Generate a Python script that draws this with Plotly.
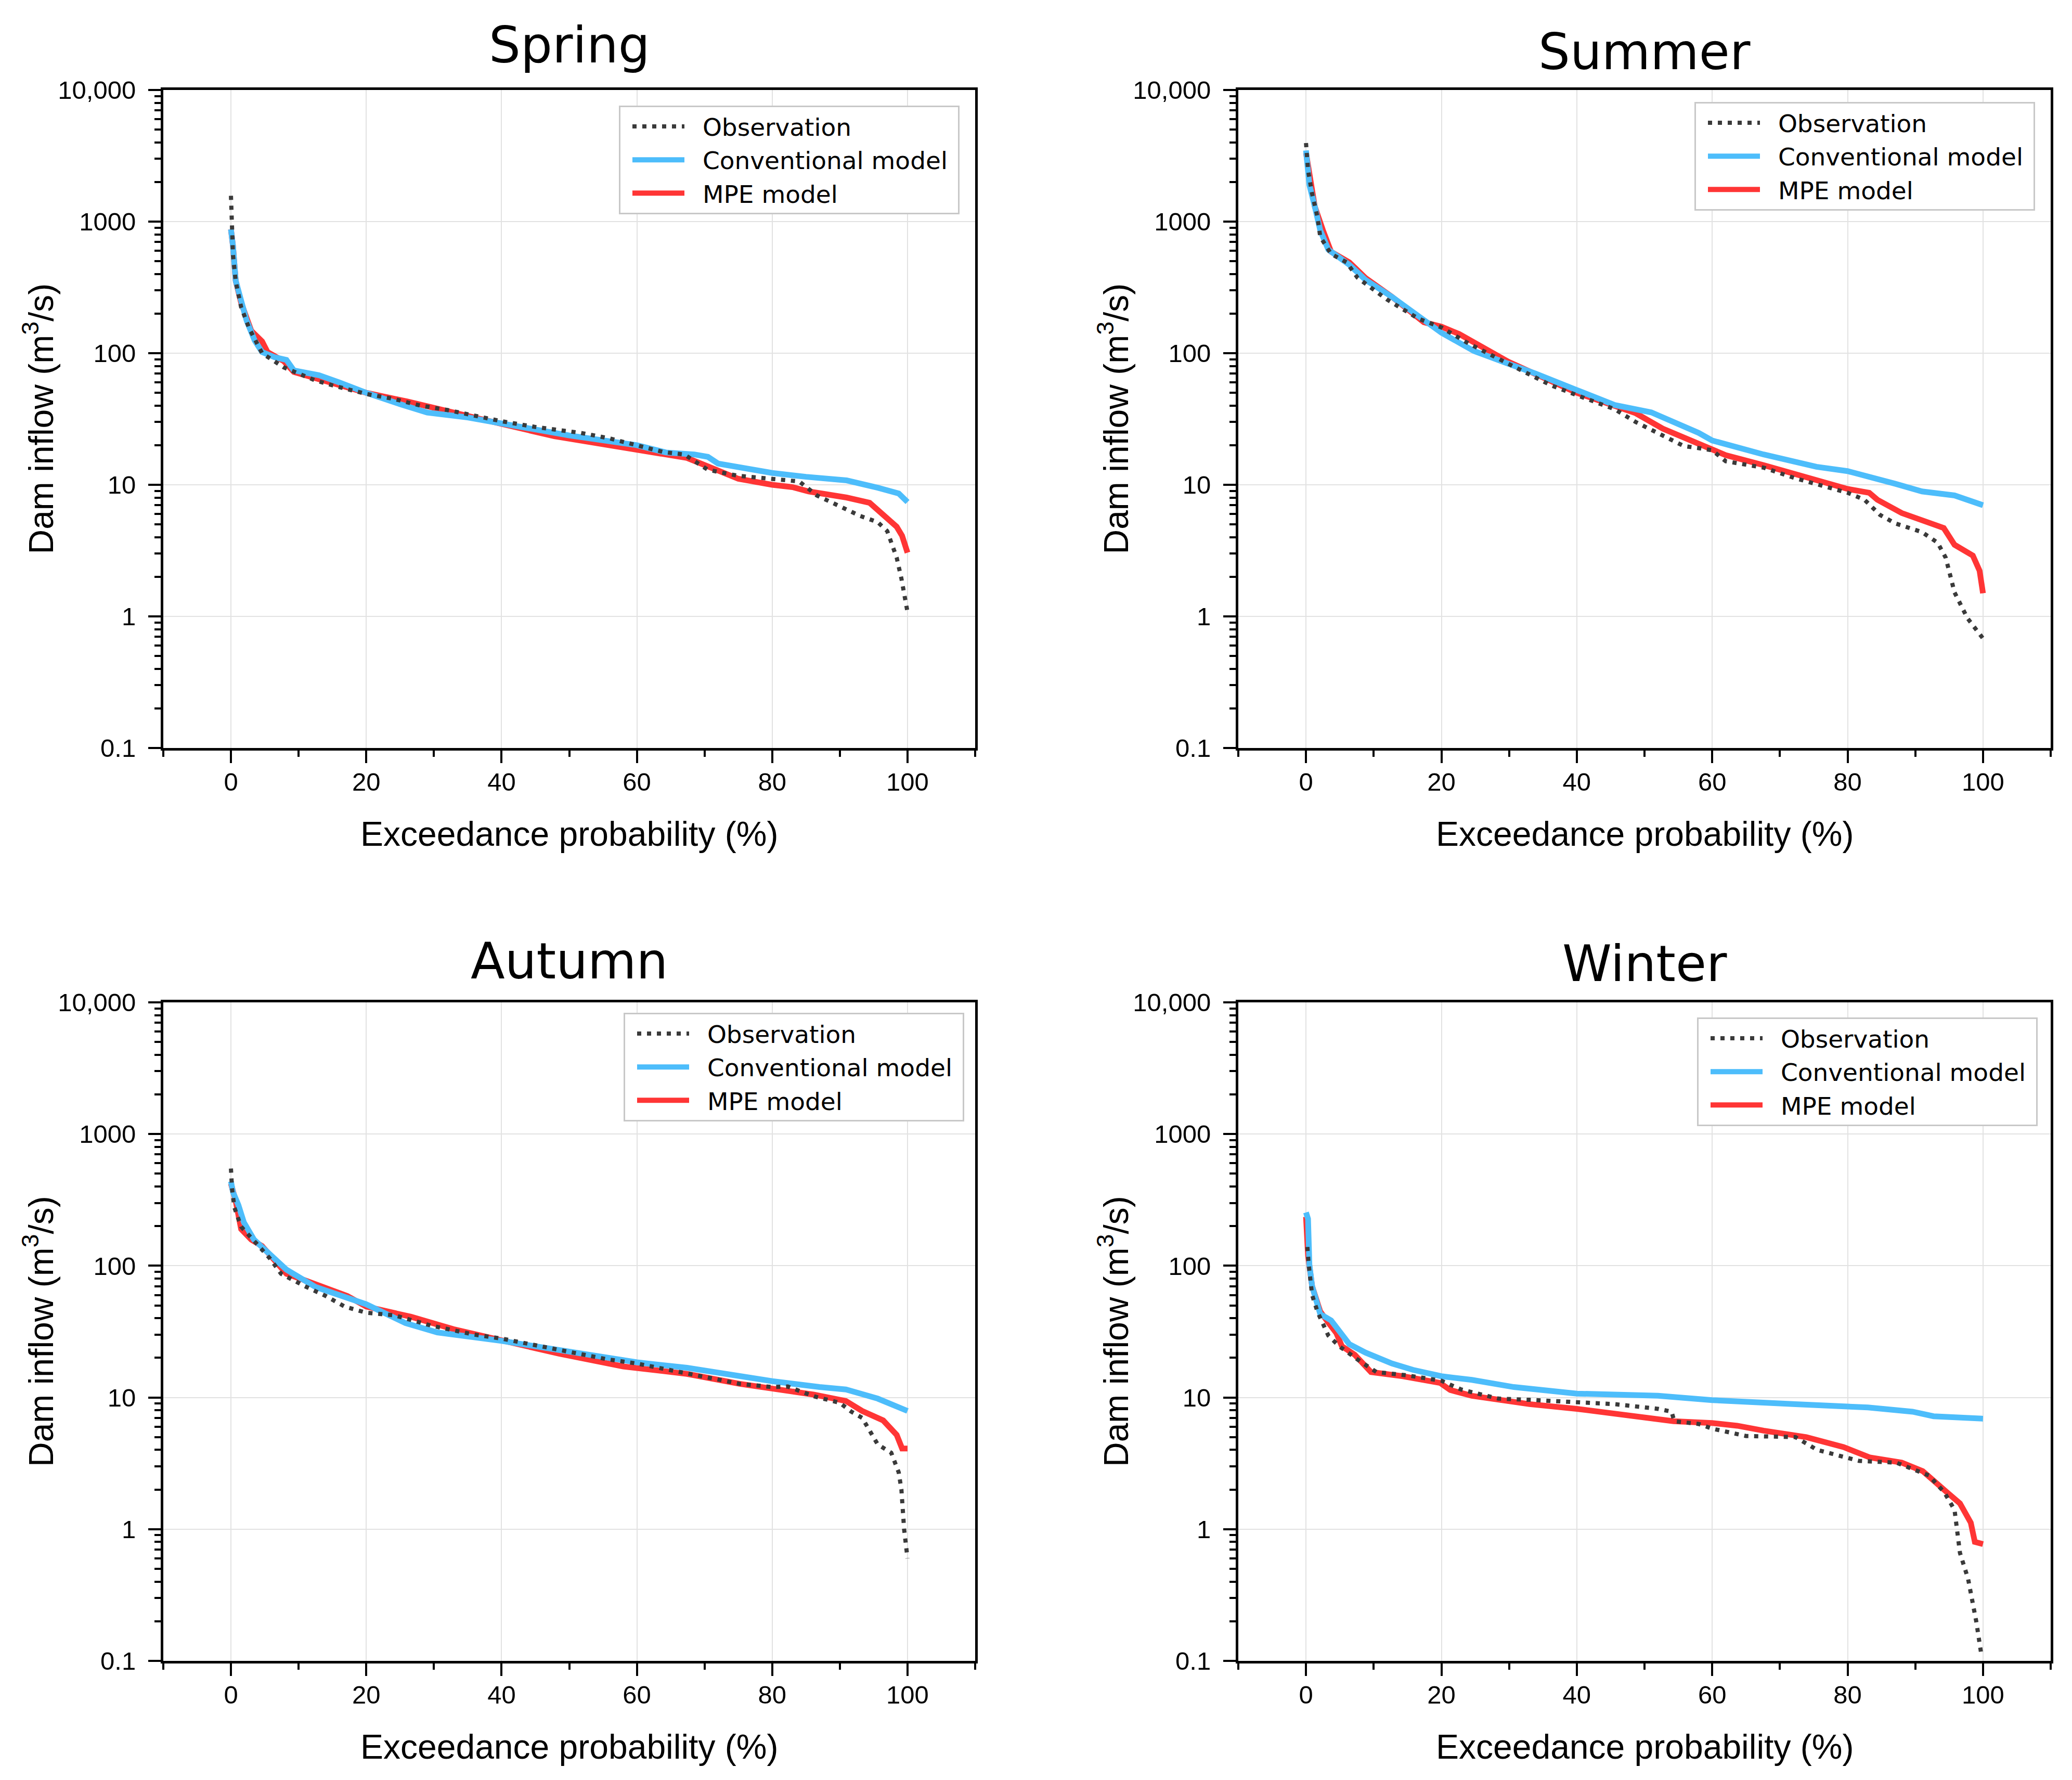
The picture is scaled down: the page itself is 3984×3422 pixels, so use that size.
import plotly.graph_objects as go

# ---------------- data ----------------
seasons = ["Spring", "Summer", "Autumn", "Winter"]
series_names = ["Observation", "Conventional model", "MPE model"]
x_tick_vals = [0, 20, 40, 60, 80, 100]
y_tick_vals = [0.1, 1, 10, 100, 1000, 10000]
y_tick_text = ["0.1", "1", "10", "100", "1000", "10,000"]

spring_obs_x = [0, 0.1, 0.3, 0.7, 1.5, 2.7, 3.8, 4.6, 7.8, 10, 12.5, 15, 20, 24, 28, 32, 36, 40, 45, 51.7, 56, 60, 64, 67, 70.5, 75, 80, 84, 86.6, 90, 93, 95.6, 97, 98.4, 99.1, 100]
spring_obs_y = [1570, 900, 556, 353, 224, 154, 118, 100, 78, 70, 62, 57, 49, 45, 40, 37, 33.5, 30.4, 27.5, 24.8, 22.5, 20, 17.7, 17, 13, 11.7, 11.1, 10.6, 8.3, 6.8, 5.8, 5.2, 4.45, 2.8, 1.94, 1.08]
spring_conv_x = [0, 0.3, 0.7, 1.5, 2.3, 3.5, 4.6, 6.5, 8.2, 9.3, 13, 16, 20, 25, 29, 35, 40, 50, 60, 62.7, 64.3, 68.5, 70.5, 72, 80, 85, 91, 95.6, 98.7, 100]
spring_conv_y = [873, 650, 355, 242, 178, 125, 102, 93, 89, 74, 68, 60, 50, 41, 35.4, 32.5, 29.3, 23.7, 20, 18.6, 17.6, 17, 16.3, 14.5, 12.3, 11.5, 10.8, 9.5, 8.6, 7.4]
spring_mpe_x = [0, 0.3, 0.7, 1.5, 3, 4.6, 5.4, 7.8, 9.3, 12.5, 20, 26, 32, 40, 47.8, 60, 64.3, 67.4, 70.5, 75, 80, 83, 85.4, 91, 94.4, 96.4, 98.4, 99.2, 100]
spring_mpe_y = [873, 650, 355, 242, 148, 123, 102, 87, 72, 65, 50, 43, 36, 29, 23.4, 18.6, 17, 16, 13.8, 11.1, 10, 9.6, 8.9, 8.0, 7.3, 6.0, 4.8, 4.1, 3.05]

summer_obs_x = [0, 0.3, 0.9, 1.7, 2.1, 3.7, 6, 7.6, 11.9, 16.6, 20, 23.7, 29.9, 36.2, 40, 45.6, 48.7, 51.9, 55.8, 58, 60, 62, 67.6, 72.3, 80, 82.5, 84.8, 87, 91, 93.3, 94.5, 95.8, 97.7, 100]
summer_obs_y = [3950, 2460, 1630, 1080, 768, 568, 490, 375, 257, 183, 157, 121, 83, 57, 48, 37.5, 30, 24.8, 19.7, 19, 18.3, 15.1, 13.5, 11.2, 8.7, 7.7, 5.9, 5.1, 4.37, 3.63, 2.79, 1.52, 0.97, 0.68]
summer_conv_x = [0, 0.5, 1.3, 2.1, 3.3, 6.4, 8.8, 12.7, 20, 24.8, 29.9, 33.9, 40, 45.6, 51, 58, 60, 67.6, 75.4, 80, 87, 91, 95.8, 100]
summer_conv_y = [3470, 1900, 1300, 860, 612, 470, 360, 268, 143, 104, 83, 70, 52.5, 40.4, 35.5, 24.8, 21.7, 17, 13.7, 12.7, 10.2, 8.9, 8.3, 7.0]
summer_mpe_x = [0, 0.8, 1.3, 2.5, 3.7, 6.4, 8.8, 12.7, 17.4, 20, 22.6, 29.9, 40, 48.7, 52.7, 58, 60, 62, 67.6, 75.4, 80, 83.2, 84.4, 88, 94.2, 95.8, 98.5, 99.5, 100]
summer_mpe_y = [3330, 1830, 1300, 860, 590, 490, 373, 268, 172, 159, 140, 86, 50, 35, 26.7, 20.5, 18.6, 16.8, 14.1, 10.9, 9.3, 8.7, 7.7, 6.1, 4.7, 3.5, 2.9, 2.22, 1.5]

autumn_obs_x = [0, 0.15, 0.5, 1.5, 3.8, 5.8, 7.4, 10.9, 14, 16.8, 20, 24.2, 29.7, 36, 40, 47.8, 55.6, 60, 67.4, 75.2, 80, 82.3, 86.2, 90, 91.7, 93.3, 95.6, 97.6, 98.7, 99.1, 99.5, 100]
autumn_obs_y = [547, 390, 278, 198, 147, 113, 87, 70, 59, 49, 44, 42, 35, 30, 28, 23.2, 19.5, 18.1, 15.3, 12.7, 12, 12.1, 10.2, 9.1, 7.8, 7.0, 4.4, 3.8, 2.7, 2.0, 1.0, 0.6]
autumn_conv_x = [0, 0.3, 1.1, 1.9, 3.4, 5.4, 8.2, 12.5, 20, 25.8, 30.5, 40, 47.8, 60, 67.4, 75.2, 80, 87, 90.9, 95.6, 100]
autumn_conv_y = [437, 362, 289, 214, 158, 126, 93.5, 69, 51, 36.7, 31.2, 26.9, 23.2, 18.5, 16.8, 14.5, 13.3, 12, 11.5, 9.8, 7.9]
autumn_mpe_x = [0, 0.7, 1.5, 3, 4.6, 6.2, 8.2, 10.9, 17.2, 20, 26.6, 32.9, 40, 48.5, 58, 67.4, 75.2, 80, 86.2, 90.9, 93.3, 96.4, 98.4, 99.2, 100]
autumn_mpe_y = [420, 310, 190, 158, 141, 112, 87, 77.6, 59, 49, 41, 33, 27.4, 21.5, 17.2, 15.1, 12.7, 11.8, 10.5, 9.4, 7.9, 6.7, 5.2, 4.1, 4.1]

winter_obs_x = [0.2, 0.4, 0.9, 1.7, 3.3, 4.9, 8, 10.4, 15, 20, 22.9, 28.4, 33, 40, 45.6, 52, 54, 54.4, 58, 60, 65, 72.3, 75.5, 81.7, 87.2, 92, 94.3, 95.8, 96.6, 97.8, 99, 99.8]
winter_obs_y = [139, 102, 60, 44.7, 29.5, 24.5, 18.8, 15.6, 14.7, 13.4, 11.5, 9.8, 9.6, 9.2, 8.9, 8.2, 7.8, 6.6, 6.3, 5.8, 5.1, 5.0, 4.0, 3.3, 3.2, 2.56, 1.9, 1.4, 0.66, 0.42, 0.2, 0.108]
winter_conv_x = [0, 0.3, 0.5, 0.9, 2.1, 3.7, 6.4, 8.8, 12.7, 15.8, 20, 24.5, 30.7, 40, 52, 60, 72.3, 83, 89.6, 92.7, 100]
winter_conv_y = [254, 227, 102, 70, 43, 38.5, 25.4, 21.9, 18.1, 16.2, 14.5, 13.6, 12, 10.7, 10.3, 9.55, 8.9, 8.4, 7.8, 7.2, 6.9]
winter_mpe_x = [0, 0.3, 0.9, 2.1, 3.3, 4.5, 5.3, 7.2, 9.6, 14.3, 19.8, 21.3, 24.5, 28.4, 33, 40, 50.4, 54.3, 60, 63.7, 67.6, 73.9, 79.4, 83.3, 88, 91.1, 94.7, 96.6, 98.2, 98.8, 100]
winter_mpe_y = [235, 119, 70, 45, 37, 30.7, 24.5, 21.1, 15.6, 14.5, 12.9, 11.4, 10.3, 9.55, 8.9, 8.2, 7.1, 6.6, 6.4, 6.1, 5.6, 5.0, 4.2, 3.5, 3.2, 2.76, 1.9, 1.57, 1.12, 0.8, 0.77]

data = {
    "Spring": [(spring_obs_x, spring_obs_y), (spring_conv_x, spring_conv_y), (spring_mpe_x, spring_mpe_y)],
    "Summer": [(summer_obs_x, summer_obs_y), (summer_conv_x, summer_conv_y), (summer_mpe_x, summer_mpe_y)],
    "Autumn": [(autumn_obs_x, autumn_obs_y), (autumn_conv_x, autumn_conv_y), (autumn_mpe_x, autumn_mpe_y)],
    "Winter": [(winter_obs_x, winter_obs_y), (winter_conv_x, winter_conv_y), (winter_mpe_x, winter_mpe_y)],
}

# ---------------- layout / style ----------------
W, H = 3984, 3422
OBS_COLOR = "#3a3a3a"
CONV_COLOR = "#4dbdfb"
MPE_COLOR = "#ff3535"
TICK_FONT = dict(family="Liberation Sans, Arial, sans-serif", size=49, color="black")
AXT_FONT = dict(family="Liberation Sans, Arial, sans-serif", size=66, color="black")
TITLE_FONT = dict(family="DejaVu Sans, Verdana, sans-serif", size=96, color="black")
LEG_FONT = dict(family="DejaVu Sans, Verdana, sans-serif", size=47, color="black")
NB = "\u00a0"

x_dom = [[314 / W, 1875 / W], [2381 / W, 3943 / W], [314 / W, 1875 / W], [2381 / W, 3943 / W]]
y_dom = [[1 - 1438 / H, 1 - 173 / H], [1 - 1438 / H, 1 - 173 / H],
         [1 - 3193 / H, 1 - 1927 / H], [1 - 3193 / H, 1 - 1927 / H]]
leg_pos = [(1845 / W, 1 - 203 / H), (3913 / W, 1 - 196 / H),
           (1854 / W, 1 - 1947 / H), (3918 / W, 1 - 1956 / H)]
title_mid_px = [87, 100, 1848, 1853]

x_minor = [-10, 10, 30, 50, 70, 90, 110]
y_minor = [k * 10 ** e for e in range(-1, 4) for k in range(2, 10)]

fig = go.Figure()
layout = dict(width=W, height=H,
              margin=dict(l=0, r=0, t=0, b=0, pad=0, autoexpand=False),
              paper_bgcolor="white", plot_bgcolor="white", showlegend=True,
              annotations=[])

for i, season in enumerate(seasons):
    n = i + 1
    xa = "x" if n == 1 else f"x{n}"
    ya = "y" if n == 1 else f"y{n}"
    leg = "legend" if n == 1 else f"legend{n}"
    (ox, oy), (cx, cy), (mx, my) = data[season]
    fig.add_trace(go.Scatter(x=mx, y=my, mode="lines", name=NB * 2 + series_names[2] + NB,
                             line=dict(color=MPE_COLOR, width=11),
                             xaxis=xa, yaxis=ya, legend=leg, legendrank=3))
    fig.add_trace(go.Scatter(x=cx, y=cy, mode="lines", name=NB * 2 + series_names[1] + NB,
                             line=dict(color=CONV_COLOR, width=11),
                             xaxis=xa, yaxis=ya, legend=leg, legendrank=2))
    fig.add_trace(go.Scatter(x=ox, y=oy, mode="lines", name=NB * 2 + series_names[0] + NB,
                             line=dict(color=OBS_COLOR, width=8, dash="8px,11px"),
                             xaxis=xa, yaxis=ya, legend=leg, legendrank=1))

    xkey = "xaxis" if n == 1 else f"xaxis{n}"
    ykey = "yaxis" if n == 1 else f"yaxis{n}"
    layout[xkey] = dict(domain=x_dom[i], anchor=ya, range=[-10, 110], automargin=False,
                        tickmode="array", tickvals=x_tick_vals,
                        ticks="outside", ticklen=24, tickwidth=4, tickcolor="black",
                        showline=True, linewidth=5, linecolor="black", mirror=True,
                        showgrid=True, gridcolor="#e2e2e2", gridwidth=2, zeroline=False,
                        tickfont=TICK_FONT, ticklabelstandoff=-6,
                        minor=dict(tickmode="array", tickvals=x_minor, ticks="outside",
                                   ticklen=12, tickwidth=4, tickcolor="black", showgrid=False))
    layout[ykey] = dict(domain=y_dom[i], anchor=xa, type="log", range=[-1, 4], automargin=False,
                        tickmode="array", tickvals=y_tick_vals, ticktext=y_tick_text,
                        ticks="outside", ticklen=24, tickwidth=4, tickcolor="black",
                        showline=True, linewidth=5, linecolor="black", mirror=True,
                        showgrid=True, gridcolor="#e2e2e2", gridwidth=2, zeroline=False,
                        tickfont=TICK_FONT, ticklabelstandoff=14,
                        minor=dict(tickmode="array", tickvals=y_minor, ticks="outside",
                                   ticklen=12, tickwidth=4, tickcolor="black", showgrid=False))
    lx, ly = leg_pos[i]
    layout[leg] = dict(x=lx, y=ly, xanchor="right", yanchor="top",
                       bgcolor="white", bordercolor="#c8c8c8", borderwidth=3,
                       font=LEG_FONT, itemwidth=100, tracegroupgap=0, indentation=18)

    xc = (x_dom[i][0] + x_dom[i][1]) / 2
    yc = (y_dom[i][0] + y_dom[i][1]) / 2
    layout["annotations"].append(dict(text=season, xref="paper", yref="paper",
                                      x=xc, y=1 - title_mid_px[i] / H,
                                      xanchor="center", yanchor="middle",
                                      showarrow=False, font=TITLE_FONT))
    layout["annotations"].append(dict(text="Exceedance probability (%)", xref="paper", yref="paper",
                                      x=xc, y=y_dom[i][0], yshift=-165,
                                      xanchor="center", yanchor="middle",
                                      showarrow=False, font=AXT_FONT))
    layout["annotations"].append(dict(text="Dam inflow (m<sup>3</sup>/s)", xref="paper", yref="paper",
                                      x=x_dom[i][0], xshift=-240, y=yc, textangle=-90,
                                      xanchor="center", yanchor="middle",
                                      showarrow=False, font=AXT_FONT))

fig.update_layout(**layout)
fig.write_html("out.html", config={"displayModeBar": False},
               post_script="document.body.style.margin='0px';document.body.style.padding='0px';"
                           "document.documentElement.style.overflow='hidden';")
